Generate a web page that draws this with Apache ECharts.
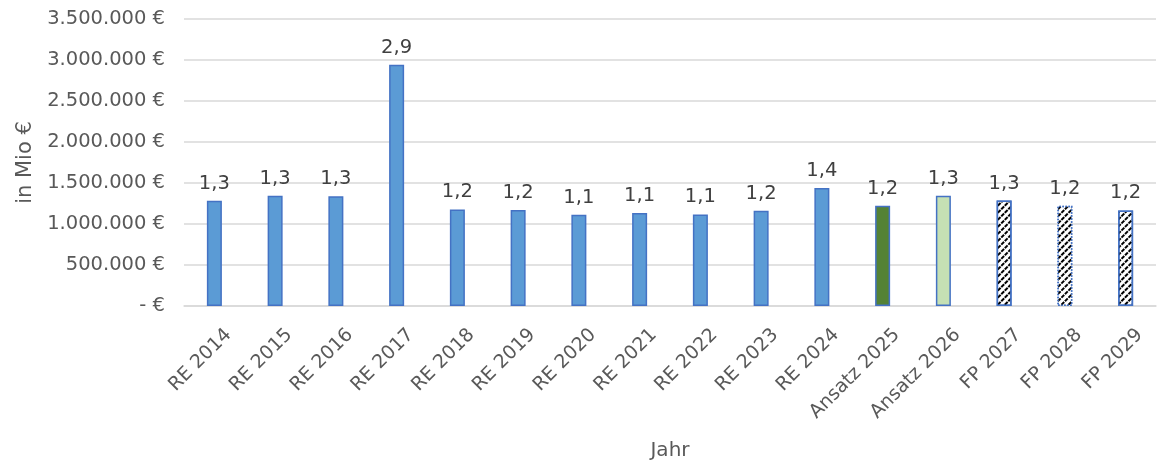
<!DOCTYPE html>
<html>
<head>
<meta charset="utf-8">
<script src="https://cdn.jsdelivr.net/npm/echarts@6/dist/echarts.min.js"></script>
<style>
html,body{margin:0;padding:0;background:#fff;}
#chart{width:1161px;height:466px;}
</style>
</head>
<body>
<div id="chart"></div>
<script>
const categories = ['RE 2014','RE 2015','RE 2016','RE 2017','RE 2018','RE 2019','RE 2020','RE 2021','RE 2022','RE 2023','RE 2024','Ansatz 2025','Ansatz 2026','FP 2027','FP 2028','FP 2029'];
const values = [1283000,1346000,1339000,2943000,1178000,1170000,1114000,1133000,1117000,1162000,1440000,1223000,1345000,1286000,1223000,1166000];
const yTicks = [0,500000,1000000,1500000,2000000,2500000,3000000,3500000];

const FONT = 'DejaVu Sans';
const blueStyle = {color:'#5B9BD5', borderColor:'#4472C4', borderWidth:1.5};
const hatch = {symbol:'rect', symbolSize:1, dashArrayX:[4,1], dashArrayY:[1.6,2.4], rotation:-Math.PI/4, color:'#000'};
const specialStyles = {
  'Ansatz 2025': {color:'#548235', borderColor:'#4472C4', borderWidth:1.5},
  'Ansatz 2026': {color:'#C5E0B4', borderColor:'#4472C4', borderWidth:1.5},
  'FP 2027': {color:'#fff', borderColor:'#4472C4', borderWidth:1.5, decal:hatch},
  'FP 2028': {color:'#fff', borderColor:'#4472C4', borderWidth:1.5, borderType:'dotted', decal:hatch},
  'FP 2029': {color:'#fff', borderColor:'#4472C4', borderWidth:1.5, decal:hatch}
};

function fmtEuro(v){
  if (v === 0) return '- €';
  return String(v).replace(/\B(?=(\d{3})+(?!\d))/g, '.') + ' €';
}

const chart = echarts.init(document.getElementById('chart'));
chart.setOption({
  animation:false,
  grid:{left:184, right:5, top:19, bottom:158},
  xAxis:{
    type:'category', data:categories,
    name:'Jahr', nameLocation:'middle', nameGap:135,
    nameTextStyle:{fontFamily:FONT, fontSize:20, color:'#595959'},
    axisLine:{lineStyle:{color:'#D9D9D9', width:1.5}},
    axisTick:{show:false},
    axisLabel:{rotate:45, margin:40, interval:0, padding:[0,-20,0,0], fontFamily:FONT, fontSize:19, color:'#595959'}
  },
  yAxis:{
    type:'value', min:0, max:3500000, interval:500000,
    name:'in Mio €', nameLocation:'middle', nameGap:148,
    nameTextStyle:{fontFamily:FONT, fontSize:21, color:'#595959'},
    axisLine:{show:false}, axisTick:{show:false},
    splitLine:{lineStyle:{color:'#D9D9D9', width:1.5}},
    axisLabel:{margin:19, fontFamily:FONT, fontSize:19.5, color:'#595959', formatter:fmtEuro}
  },
  series:[{
    type:'bar', barWidth:15,
    data: categories.map((c,i)=>({value:values[i], itemStyle: specialStyles[c] || blueStyle})),
    label:{show:true, position:'top', distance:7, fontFamily:FONT, fontSize:19.5, color:'#404040',
      formatter:p=>(p.value/1e6).toFixed(1).replace('.',',')}
  }]
});
</script>
</body>
</html>
